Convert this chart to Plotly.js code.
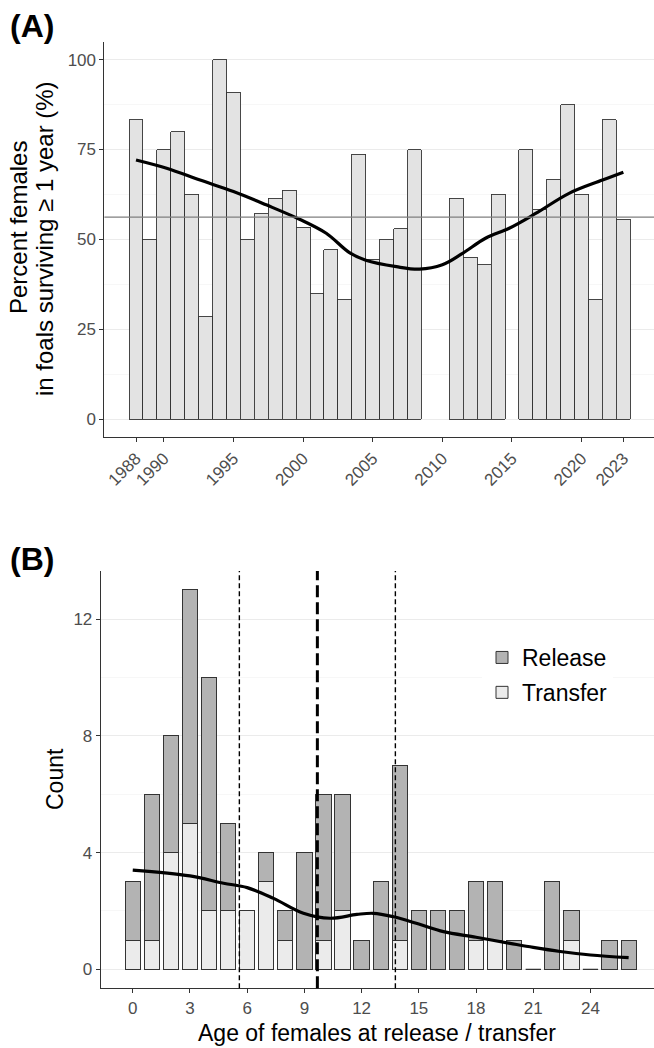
<!DOCTYPE html>
<html>
<head>
<meta charset="utf-8">
<script src="https://cdn.plot.ly/plotly-3.0.1.min.js"></script>
<style>html,body{margin:0;padding:0;background:#fff;}#chart{width:654px;height:1048px;}</style>
</head>
<body>
<div id="chart"></div>
<script>
// ---------- Panel A data ----------
const years = [1988,1989,1990,1991,1992,1993,1994,1995,1996,1997,1998,1999,2000,2001,2002,2003,2004,2005,2006,2007,2008,2011,2012,2013,2014,2016,2017,2018,2019,2020,2021,2022,2023];
const pctFemales = [83.3,50,75,80,62.5,28.6,100,90.9,50,57.1,61.5,63.6,53.3,35,47.1,33.3,73.7,44.4,50,52.9,75,61.5,45,42.9,62.5,75,58.3,66.7,87.5,62.5,33.3,83.3,55.6];
const meanPct = 56.2;
const smoothYears = [1988,1990.2,1992.6,1995,1997.35,1999.74,2001.66,2003.33,2004.5,2006.7,2008.35,2010,2011.45,2013.1,2014.8,2016.7,2019.1,2021.5,2023];
const smoothPct = [72.1,69.8,66.5,63.3,59.6,55.6,51.7,46.3,44.2,42.4,41.7,42.9,46.1,50.3,53.1,57.2,62.8,66.5,68.7];
const yearTicks = [1988,1990,1995,2000,2005,2010,2015,2020,2023];
const yTitleA = ['Percent females', 'in foals surviving ≥ 1 year (%)'];

// ---------- Panel B data ----------
const ages = [0,1,2,3,4,5,6,7,8,9,10,11,12,13,14,15,16,17,18,19,20,21,22,23,24,25,26];
const release  = [2,5,4,8,8,3,0,1,1,4,5,4,1,3,6,2,2,2,2,2,1,0,3,1,0,1,1];
const transfer = [1,1,4,5,2,2,2,3,1,0,1,2,0,0,1,0,0,0,1,1,0,0,0,1,0,0,0];
const ageMean = 9.68, ageLow = 5.59, ageHigh = 13.77;
const smoothAges = [0,3,4.76,6,7.38,8.95,10.35,11.75,12.62,13.67,15,16.29,18,19.78,21,22.41,24,26];
const smoothCount = [3.40,3.20,2.95,2.80,2.43,1.92,1.75,1.88,1.92,1.80,1.55,1.29,1.10,0.89,0.75,0.61,0.49,0.40];
const ageTicks = [0,3,6,9,12,15,18,21,24];

const W = 654, H = 1048;
const FONT = 'Liberation Sans, Arial, Helvetica, sans-serif';
const barW = 0.8;

// zero-count bars drawn as flat outlines
const zx = [], zy = [];
ages.forEach((a,i)=>{ if(release[i]+transfer[i]===0){ zx.push(a-barW/2,a+barW/2,null); zy.push(0,0,null);} });

const traces = [
  {type:'bar', x:years, y:pctFemales, width:1, xaxis:'x', yaxis:'y', showlegend:false,
   marker:{color:'#e3e3e3', line:{color:'#333333', width:0.9}}, hoverinfo:'x+y'},
  {type:'scatter', mode:'lines', x:smoothYears, y:smoothPct, xaxis:'x', yaxis:'y', showlegend:false,
   line:{color:'#000', width:3.2, shape:'spline'}},
  {type:'bar', name:'Transfer', x:ages, y:transfer, width:barW, xaxis:'x2', yaxis:'y2', legendgroup:'t', legendrank:2,
   marker:{color:'#ebebeb', line:{color:'#333333', width:1}}},
  {type:'bar', name:'Release', x:ages, y:release, width:barW, xaxis:'x2', yaxis:'y2', legendgroup:'r', legendrank:1,
   marker:{color:'#b3b3b3', line:{color:'#333333', width:1}}},
  {type:'scatter', mode:'lines', x:zx, y:zy, xaxis:'x2', yaxis:'y2', showlegend:false,
   line:{color:'#333333', width:1.2}, hoverinfo:'skip'},
  {type:'scatter', mode:'lines', x:smoothAges, y:smoothCount, xaxis:'x2', yaxis:'y2', showlegend:false,
   line:{color:'#000', width:3.2, shape:'spline'}}
];

const axCommon = {ticks:'outside', ticklen:4, tickwidth:1, tickcolor:'#333', showline:true, linecolor:'#333', linewidth:1,
  zeroline:false, tickfont:{family:FONT, size:17, color:'#4d4d4d'}};

const layout = {
  width:W, height:H, margin:{l:0,r:0,t:0,b:0},
  paper_bgcolor:'#fff', plot_bgcolor:'#fff', barmode:'stack', bargap:0,
  font:{family:FONT, color:'#000'},
  xaxis: Object.assign({}, axCommon, {domain:[104.4/W,1], anchor:'y', range:[1985.73,2025.2], tickmode:'array', tickvals:yearTicks, tickangle:-45, showgrid:false}),
  yaxis: Object.assign({}, axCommon, {domain:[1-437/H, 1-41.7/H], anchor:'x', range:[-5,105], tick0:0, dtick:25,
    showgrid:true, gridcolor:'#ebebeb', gridwidth:1, minor:{dtick:12.5, tick0:0, showgrid:true, gridcolor:'#f4f4f4', gridwidth:0.7, ticks:''}}),
  xaxis2: Object.assign({}, axCommon, {domain:[100.7/W,1], anchor:'y2', range:[-1.68,27.33], tickmode:'array', tickvals:ageTicks, showgrid:false}),
  yaxis2: Object.assign({}, axCommon, {domain:[1-988.3/H, 1-570.9/H], anchor:'x2', range:[-0.65,13.65], tick0:0, dtick:4,
    showgrid:true, gridcolor:'#ebebeb', gridwidth:1, minor:{dtick:2, tick0:0, showgrid:true, gridcolor:'#f4f4f4', gridwidth:0.7, ticks:''}}),
  legend:{x:482/W, y:1-636/H, xanchor:'left', yanchor:'top', bgcolor:'#fff', borderwidth:0,
    font:{family:FONT, size:23, color:'#000'}, tracegroupgap:2, traceorder:'grouped'},
  shapes:[
    {type:'line', xref:'x domain', yref:'y', x0:0, x1:1, y0:meanPct, y1:meanPct, line:{color:'#7f7f7f', width:1.3}},
    {type:'line', xref:'x2', yref:'y2 domain', x0:ageLow, x1:ageLow, y0:0, y1:1, line:{color:'#000', width:1.4, dash:'5px,3px'}},
    {type:'line', xref:'x2', yref:'y2 domain', x0:ageHigh, x1:ageHigh, y0:0, y1:1, line:{color:'#000', width:1.4, dash:'5px,3px'}},
    {type:'line', xref:'x2', yref:'y2 domain', x0:ageMean, x1:ageMean, y0:0, y1:1, line:{color:'#000', width:3, dash:'12px,5px'}}
  ],
  annotations:[
    {text:'<b>(A)</b>', xref:'paper', yref:'paper', x:8/W, y:1-26/H, xanchor:'left', yanchor:'middle', showarrow:false, font:{family:FONT, size:32, color:'#000'}},
    {text:'<b>(B)</b>', xref:'paper', yref:'paper', x:8/W, y:1-559/H, xanchor:'left', yanchor:'middle', showarrow:false, font:{family:FONT, size:32, color:'#000'}},
    {text:yTitleA[0], xref:'paper', yref:'paper', x:19/W, y:1-228/H, xanchor:'center', yanchor:'middle',
     textangle:-90, showarrow:false, font:{family:FONT, size:24, color:'#000'}},
    {text:yTitleA[1], xref:'paper', yref:'paper', x:44/W, y:1-239/H, xanchor:'center', yanchor:'middle',
     textangle:-90, showarrow:false, font:{family:FONT, size:24, color:'#000'}},
    {text:'Count', xref:'paper', yref:'paper', x:55/W, y:1-779/H, xanchor:'center', yanchor:'middle', textangle:-90, showarrow:false, font:{family:FONT, size:23, color:'#000'}},
    {text:'Age of females at release / transfer', xref:'paper', yref:'paper', x:377/W, y:1-1033/H, xanchor:'center', yanchor:'middle', showarrow:false, font:{family:FONT, size:23, color:'#000'}}
  ]
};

Plotly.newPlot('chart', traces, layout, {displayModeBar:false, staticPlot:true});
</script>
</body>
</html>
